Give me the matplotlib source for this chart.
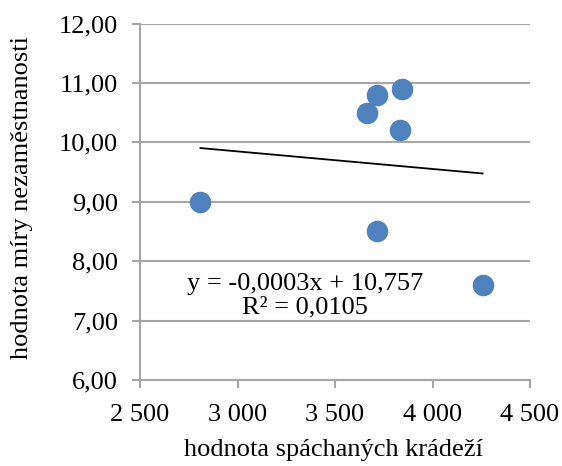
import numpy as np
import matplotlib
matplotlib.use('Agg')
import matplotlib.pyplot as plt
from matplotlib.ticker import FuncFormatter

# data
kradeze = [2810, 3665, 3715, 3845, 3835, 3715, 4257]
nezamestnanost = [9.0, 10.5, 10.8, 10.9, 10.2, 8.5, 7.6]
x_ticks = [2500, 3000, 3500, 4000, 4500]
y_ticks = [6, 7, 8, 9, 10, 11, 12]

plt.rcParams['font.family'] = ['Liberation Serif', 'DejaVu Serif']
fs = 19

fig = plt.figure(figsize=(5.62, 4.66), dpi=100)
ax = fig.add_axes([140 / 562, 1 - 380 / 466, 390 / 562, 356.5 / 466])

grid_col = '#A6A6A6'
for y in y_ticks:
    ax.axhline(y, color=grid_col, lw=1.5, zorder=1)

ax.plot(kradeze, nezamestnanost, 'o', ms=14.5, color='#4F81BD', zorder=3)

# linear trendline
k, q = np.polyfit(kradeze, nezamestnanost, 1)
xt = np.array([min(kradeze), max(kradeze)])
ax.plot(xt, k * xt + q, color='black', lw=1.3, zorder=2)

ax.text(3345, 7.42, 'y = -0,0003x + 10,757\nR² = 0,0105', ha='center', va='center',
        multialignment='center', fontsize=fs, linespacing=1.08, zorder=4)

ax.set_xlim(2500, 4500)
ax.set_ylim(6, 12)
ax.set_xticks(x_ticks)
ax.set_yticks(y_ticks)
ax.xaxis.set_major_formatter(FuncFormatter(lambda v, p: f'{int(v):,}'.replace(',', ' ')))
ax.yaxis.set_major_formatter(FuncFormatter(lambda v, p: f'{v:.2f}'.replace('.', ',')))

for s in ['top', 'right']:
    ax.spines[s].set_visible(False)
for s in ['left', 'bottom']:
    ax.spines[s].set_color(grid_col)
    ax.spines[s].set_linewidth(1.5)
ax.tick_params(axis='both', color=grid_col, width=1.5, length=6, labelsize=fs)
ax.tick_params(axis='x', pad=11)
ax.tick_params(axis='y', pad=10)

ax.set_xlabel('hodnota spáchaných krádeží', fontsize=fs, va='center')
ax.xaxis.set_label_coords(0.496, -0.195)
ax.set_ylabel('hodnota míry nezaměstnanosti', fontsize=fs, va='center')
ax.yaxis.set_label_coords(-0.303, 0.513)

fig.savefig('out.png', dpi=100)
